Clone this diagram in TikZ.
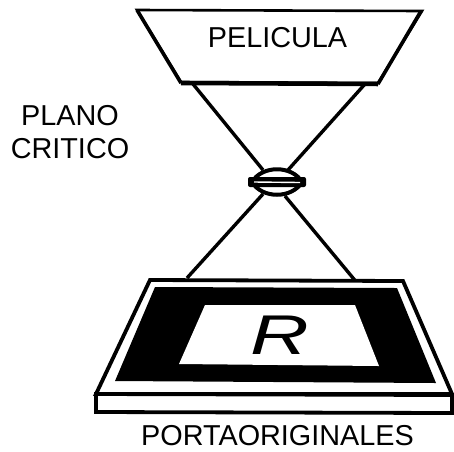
\documentclass[tikz,border=0pt]{standalone}
\usepackage{fontspec}
\setmainfont{Liberation Sans}
\tikzset{
  lbl/.style={inner sep=0pt,font=\fontsize{28.8}{30}\selectfont},
  heavy/.style={draw=black,line width=3.8pt,line join=miter,miter limit=3},
  ray/.style={draw=black,line width=3.4pt}
}
\begin{document}
\begin{tikzpicture}[x=1pt,y=-1pt]
\useasboundingbox (0,0) rectangle (454,451);
% rays
\coordinate (fa) at (193,84);
\coordinate (fb) at (365,84);
\coordinate (lt1) at (263,170);
\coordinate (lt2) at (288,170);
\coordinate (lb1) at (263,194);
\coordinate (lb2) at (285,196);
\coordinate (ba) at (187,278);
\coordinate (bb) at (358,284);
\draw[ray] (fa) -- (lt1);
\draw[ray] (fb) -- (lt2);
\draw[ray] (lb1) -- (ba);
\draw[ray] (lb2) -- (bb);
% film
\draw[heavy,fill=white,line width=2.6pt] (137,10) -- (422,11) -- (378,83) -- (181,82) -- cycle;
\draw[black,line width=4.5pt] (181,83) -- (378,84);
\draw[black,line width=3.6pt] (137,10) -- (181,83);
\draw[black,line width=3.6pt] (421,11) -- (378,84);
\node[lbl] (film) at (277.5,38) {PELICULA};
% lens
\draw[black,line width=4pt,fill=white] (252,182) .. controls (262,165) and (292,165) .. (302,182) .. controls (292,199) and (262,199) .. (252,182) -- cycle;
\fill[black,rounded corners=2pt] (248,177) -- (306,177) -- (306,187) -- (248,187) -- cycle;
\draw[white,line width=1.4pt] (254,182) -- (300,182.5);
% board
\draw[heavy,fill=white] (96,394) -- (150,280) -- (403,281) -- (452,394) -- cycle;
\fill[black] (155,287) -- (397,288) -- (436,383) -- (115,381) -- cycle;
\fill[white] (205,305) -- (355,305) -- (379,366) -- (179,364) -- cycle;
\draw[heavy,fill=white] (96,394) -- (452,395) -- (452,413) -- (96,412) -- cycle;
\node[inner sep=0pt,xscale=1.45,font=\fontsize{56}{58}\selectfont\itshape] (letter) at (280,335) {R};
% labels
\node[lbl] (plano) at (70,116) {PLANO};
\node[lbl] (critico) at (70,149) {CRITICO};
\node[lbl] (porta) at (277.5,436) {PORTAORIGINALES};
\end{tikzpicture}
\end{document}
